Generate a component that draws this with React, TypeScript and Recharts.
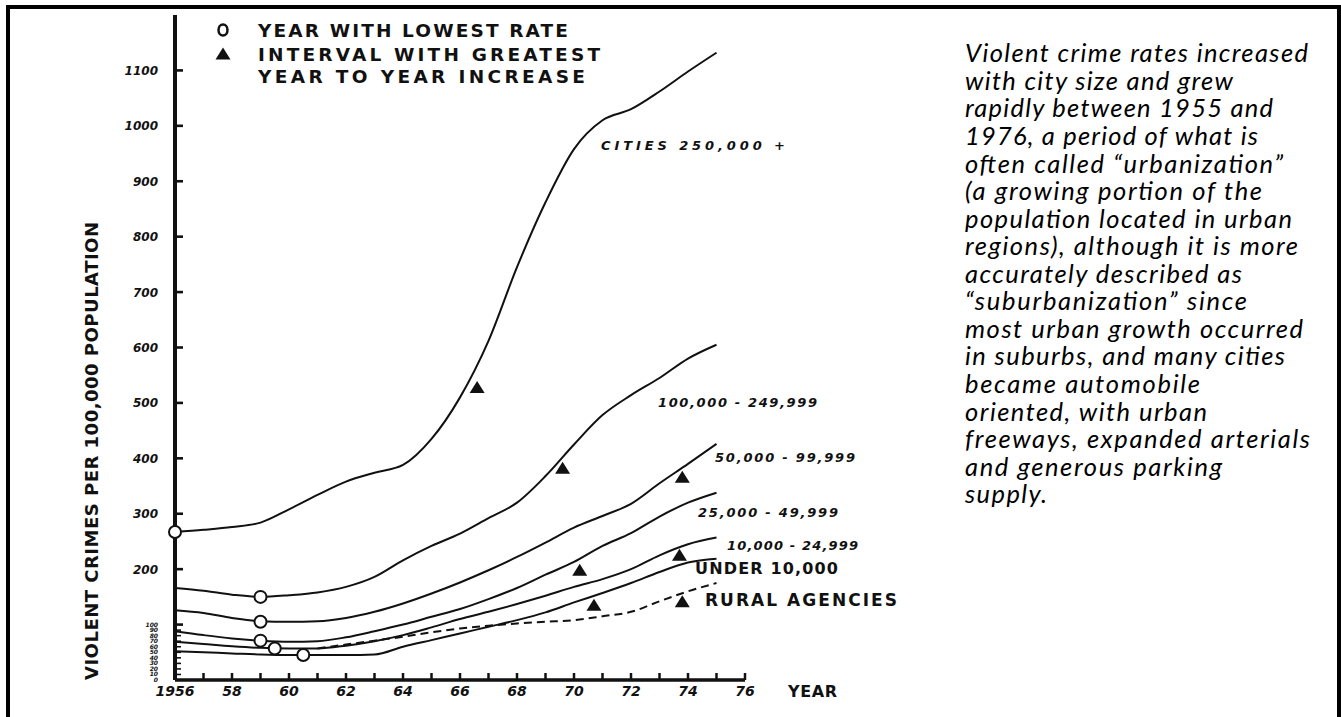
import React from 'react';
import { ComposedChart, Line, XAxis, YAxis, ReferenceDot } from 'recharts';

// ---------- data ----------
const years = [1956, 1957, 1958, 1959, 1960, 1961, 1962, 1963, 1964, 1965, 1966, 1967, 1968, 1969, 1970, 1971, 1972, 1973, 1974, 1975];
const cities250kPlus = [267, 271, 276, 284, 308, 334, 358, 374, 388, 435, 510, 612, 745, 862, 958, 1010, 1030, 1062, 1098, 1132];
const cities100kTo249k = [166, 161, 154, 150, 153, 158, 168, 186, 216, 242, 264, 292, 320, 368, 425, 478, 514, 545, 580, 605];
const cities50kTo99k = [126, 121, 112, 106, 105, 106, 112, 123, 138, 156, 176, 198, 222, 248, 275, 296, 318, 355, 390, 426];
const cities25kTo49k = [88, 81, 75, 71, 69, 70, 77, 88, 100, 114, 128, 146, 166, 190, 213, 242, 265, 295, 320, 338];
const cities10kTo24k = [69, 65, 61, 58, 57, 57, 62, 70, 81, 95, 110, 123, 137, 152, 168, 182, 200, 225, 245, 257];
const citiesUnder10k = [52, 50, 48, 46, 45, 45, 45, 46, 60, 72, 84, 96, 108, 122, 140, 157, 175, 195, 212, 219];
const ruralAgencies: (number | null)[] = [null, null, null, null, null, 57, 64, 71, 78, 86, 93, 98, 102, 105, 108, 115, 123, 142, 160, 175];

const xTickYears = [1956, 1957, 1958, 1959, 1960, 1961, 1962, 1963, 1964, 1965, 1966, 1967, 1968, 1969, 1970, 1971, 1972, 1973, 1974, 1975, 1976];
const yTickValues = [0, 10, 20, 30, 40, 50, 60, 70, 80, 90, 100, 200, 300, 400, 500, 600, 700, 800, 900, 1000, 1100];

// "year with lowest rate" circles
const lowestRateYears = [1956, 1959, 1959, 1959, 1959.5, 1960.5];
const lowestRateValues = [267, 150, 105, 71, 57, 45];
// "interval with greatest year to year increase" triangles
const greatestIncreaseYears = [1966.6, 1969.6, 1970.2, 1970.7, 1973.8, 1973.7, 1973.8];
const greatestIncreaseValues = [528, 382, 198, 135, 366, 225, 141];

const seriesLabelTexts = ['CITIES 250,000 +', '100,000 - 249,999', '50,000 - 99,999', '25,000 - 49,999', '10,000 - 24,999', 'UNDER 10,000', 'RURAL AGENCIES'];
const legendTexts = ['YEAR WITH LOWEST RATE', 'INTERVAL WITH GREATEST', 'YEAR TO YEAR INCREASE'];
const yAxisTitle = 'VIOLENT CRIMES PER 100,000 POPULATION';
const xAxisTitle = 'YEAR';

const paragraphLines = [
  'Violent crime rates increased',
  'with city size and grew',
  'rapidly between 1955 and',
  '1976, a period of what is',
  'often called \u201curbanization\u201d',
  '(a growing portion of the',
  'population located in urban',
  'regions), although it is more',
  'accurately described as',
  '\u201csuburbanization\u201d since',
  'most urban growth occurred',
  'in suburbs, and many cities',
  'became automobile',
  'oriented, with urban',
  'freeways, expanded arterials',
  'and generous parking',
  'supply.',
];

const tableData = years.map((year, i) => ({
  year,
  c250: cities250kPlus[i],
  c100: cities100kTo249k[i],
  c50: cities50kTo99k[i],
  c25: cities25kTo49k[i],
  c10: cities10kTo24k[i],
  u10: citiesUnder10k[i],
  rural: ruralAgencies[i],
}));

// ---------- layout / style ----------
const LETTER = '"DejaVu Sans", sans-serif';
const INK = '#111';

const paragraphWidths = [343, 268, 308, 293, 318, 297, 327, 333, 277, 282, 338, 320, 235, 242, 345, 257, 82];

const seriesLabelLayout = [
  { x: 601, y: 150, w: 184, size: 13, italic: true },
  { x: 658, y: 407, w: 159, size: 13, italic: true },
  { x: 715, y: 462, w: 140, size: 13, italic: true },
  { x: 698, y: 517, w: 140, size: 13, italic: true },
  { x: 727, y: 550, w: 131, size: 13, italic: true },
  { x: 695, y: 574, w: 143, size: 16, italic: false },
  { x: 705, y: 606, w: 192, size: 17, italic: false },
];

const legendLayout = [
  { y: 36.5, w: 310 },
  { y: 60.5, w: 342 },
  { y: 82.5, w: 327 },
];

const YTick = (props: any) => {
  const { x, y, payload } = props;
  const v = payload.value as number;
  const small = v <= 100;
  const isMinor = v < 100;
  return (
    <g>
      <line x1={x} x2={x + (isMinor ? 6 : 8)} y1={y} y2={y} stroke={INK} strokeWidth={isMinor ? 1.6 : 2.6} />
      <text
        x={x - 17}
        y={y}
        dy={small ? 2 : 4.5}
        textAnchor="end"
        fontFamily={LETTER}
        fontStyle="italic"
        fontWeight="bold"
        fontSize={small ? 6 : 12}
        fill={INK}
      >
        {v}
      </text>
    </g>
  );
};

const XTick = (props: any) => {
  const { x, y, payload } = props;
  const yr = payload.value as number;
  const showLabel = yr % 2 === 0;
  const label = yr === 1956 ? '1956' : String(yr).slice(2);
  return (
    <g>
      <line x1={x} x2={x} y1={y} y2={y - 7} stroke={INK} strokeWidth={2.5} />
      {showLabel && (
        <text
          x={x}
          y={y + 16}
          textAnchor="middle"
          fontFamily={LETTER}
          fontStyle="italic"
          fontWeight="bold"
          fontSize={14}
          fill={INK}
        >
          {label}
        </text>
      )}
    </g>
  );
};

const Triangle = (p: any) => (
  <polygon
    points={`${p.cx},${p.cy - 6.5} ${p.cx - 7.5},${p.cy + 5.5} ${p.cx + 7.5},${p.cy + 5.5}`}
    fill={INK}
  />
);

export default function App() {
  return (
    <div style={{ position: 'absolute', left: 0, top: 0, width: 1341, height: 717, overflow: 'hidden', background: '#fff' }}>
      <div
        style={{
          position: 'absolute',
          left: 6,
          top: 5,
          width: 1335,
          height: 760,
          border: '4px solid #000',
          boxSizing: 'border-box',
        }}
      />
      <div style={{ position: 'absolute', left: 0, top: 0 }}>
        <ComposedChart
          width={1341}
          height={717}
          data={tableData}
          margin={{ top: 15, right: 596, bottom: 7, left: 75 }}
        >
          <XAxis
            dataKey="year"
            type="number"
            domain={[1956, 1976]}
            ticks={xTickYears}
            interval={0}
            tickSize={0}
            tickMargin={0}
            tickLine={false}
            height={30}
            axisLine={{ stroke: INK, strokeWidth: 3.5 }}
            tick={(p: any) => <XTick {...p} />}
          />
          <YAxis
            type="number"
            domain={[0, 1200]}
            ticks={yTickValues}
            interval={0}
            tickSize={0}
            tickMargin={0}
            tickLine={false}
            width={100}
            axisLine={{ stroke: INK, strokeWidth: 4 }}
            tick={(p: any) => <YTick {...p} />}
          />
          <Line dataKey="c250" type="monotone" stroke={INK} strokeWidth={2} dot={false} isAnimationActive={false} />
          <Line dataKey="c100" type="monotone" stroke={INK} strokeWidth={2} dot={false} isAnimationActive={false} />
          <Line dataKey="c50" type="monotone" stroke={INK} strokeWidth={2} dot={false} isAnimationActive={false} />
          <Line dataKey="c25" type="monotone" stroke={INK} strokeWidth={2} dot={false} isAnimationActive={false} />
          <Line dataKey="c10" type="monotone" stroke={INK} strokeWidth={2} dot={false} isAnimationActive={false} />
          <Line dataKey="u10" type="monotone" stroke={INK} strokeWidth={2} dot={false} isAnimationActive={false} />
          <Line
            dataKey="rural"
            type="monotone"
            stroke={INK}
            strokeWidth={2}
            strokeDasharray="8 5"
            dot={false}
            connectNulls={false}
            isAnimationActive={false}
          />
          {lowestRateYears.map((yr, i) => (
            <ReferenceDot
              key={'lo' + i}
              x={yr}
              y={lowestRateValues[i]}
              r={6}
              fill="#fff"
              stroke={INK}
              strokeWidth={2}
              ifOverflow="visible"
            />
          ))}
          {greatestIncreaseYears.map((yr, i) => (
            <ReferenceDot
              key={'gi' + i}
              x={yr}
              y={greatestIncreaseValues[i]}
              r={6}
              ifOverflow="visible"
              shape={(p: any) => <Triangle {...p} />}
            />
          ))}
        </ComposedChart>
      </div>
      <svg width={1341} height={717} style={{ position: 'absolute', left: 0, top: 0, pointerEvents: 'none' }}>
        {/* legend */}
        <ellipse cx={223} cy={30} rx={4.5} ry={5.5} fill="none" stroke={INK} strokeWidth={2.5} />
        <polygon points="223,47.5 215.5,59.5 230.5,59.5" fill={INK} />
        {legendTexts.map((t, i) => (
          <text
            key={t}
            x={258}
            y={legendLayout[i].y}
            textLength={legendLayout[i].w}
            lengthAdjust="spacing"
            fontFamily={LETTER}
            fontWeight="bold"
            fontSize={18.5}
            fill={INK}
          >
            {t}
          </text>
        ))}
        {/* series labels */}
        {seriesLabelTexts.map((t, i) => {
          const L = seriesLabelLayout[i];
          return (
            <text
              key={t}
              x={L.x}
              y={L.y}
              textLength={L.w}
              lengthAdjust="spacing"
              fontFamily={LETTER}
              fontWeight="bold"
              fontStyle={L.italic ? 'italic' : 'normal'}
              fontSize={L.size}
              fill={INK}
            >
              {t}
            </text>
          );
        })}
        {/* axis titles */}
        <text
          transform="translate(98,451) rotate(-90)"
          textAnchor="middle"
          textLength={458}
          lengthAdjust="spacing"
          fontFamily={LETTER}
          fontWeight="bold"
          fontSize={18}
          fill={INK}
        >
          {yAxisTitle}
        </text>
        <text x={788} y={697} textLength={49} lengthAdjust="spacing" fontFamily={LETTER} fontWeight="bold" fontSize={16} fill={INK}>
          {xAxisTitle}
        </text>
        {/* paragraph */}
        {paragraphLines.map((line, i) => (
          <text
            key={i}
            x={965}
            y={62.3 + 27.56 * i}
            textLength={paragraphWidths[i]}
            lengthAdjust="spacing"
            fontFamily="Lato, 'Open Sans', sans-serif"
            fontStyle="italic"
            fontSize={25.5}
            fill="#000"
          >
            {line}
          </text>
        ))}
      </svg>
    </div>
  );
}
